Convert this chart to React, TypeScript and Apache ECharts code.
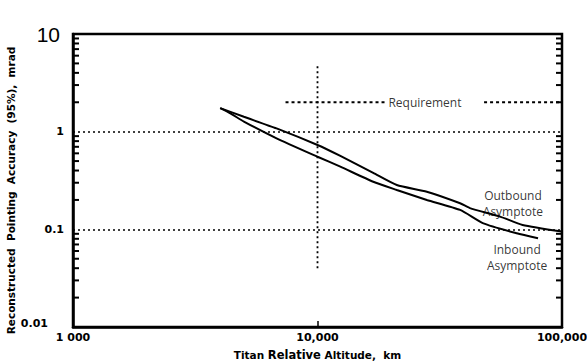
import React, { useEffect, useRef } from "react";
import * as echarts from "echarts";

// Titan relative altitude (km) and reconstructed pointing accuracy (mrad)
const outboundAlt = [4000, 5000, 6800, 10000, 12400, 16900, 21100, 28000, 38300, 42000, 55800, 69000, 100000];
const outboundAcc = [1.74, 1.42, 1.08, 0.73, 0.564, 0.378, 0.284, 0.243, 0.185, 0.165, 0.135, 0.111, 0.095];

const inboundAlt = [4000, 4400, 5000, 6800, 10000, 12400, 16900, 21100, 28000, 38300, 47700, 65300, 79800];
const inboundAcc = [1.74, 1.54, 1.27, 0.855, 0.554, 0.438, 0.307, 0.253, 0.2, 0.158, 0.115, 0.091, 0.081];

// Requirement level, drawn in two pieces around its label
const requirementLevel = 2;
const requirementLeft = [7400, 18800];
const requirementRight = [48000, 100000];

// Reference altitude marker
const markerAlt = 10000;
const markerRange = [0.04, 5];

const xTicks = [1000, 10000, 100000];
const xTickLabels = ["1 000", "10,000", "100,000"];
const yTicks = [0.01, 0.1, 1, 10];
const yTickLabels = ["0.01", "0.1", "1", "10"];

// Intermediate log ticks (2..9 within each decade) on both vertical edges
const yMinorTicks = [
  0.02, 0.03, 0.04, 0.05, 0.06, 0.07, 0.08, 0.09,
  0.2, 0.3, 0.4, 0.5, 0.6, 0.7, 0.8, 0.9,
  2, 3, 4, 5, 6, 7, 8, 9,
];

const yAxisTitle = "Reconstructed  Pointing  Accuracy  (95%),  mrad";

const annotations = [
  { text: "Requirement", at: [27500, 2] },
  { text: "Outbound\nAsymptote", at: [63000, 0.186] },
  { text: "Inbound\nAsymptote", at: [65500, 0.051] },
];

export default function App() {
  const ref = useRef<HTMLDivElement>(null);

  useEffect(() => {
    if (!ref.current) return;
    const chart = echarts.init(ref.current, undefined, { renderer: "svg" });

    const pairs = (xs: number[], ys: number[]) => xs.map((x, i) => [x, ys[i]]);
    const black = "#000";
    const tickFont = "DejaVu Sans";
    const xMin = xTicks[0];
    const xMax = xTicks[xTicks.length - 1];

    const yLabel = (v: number) => {
      const i = yTicks.findIndex((t) => Math.abs(Math.log10(t) - Math.log10(v)) < 1e-6);
      if (i < 0) return "";
      if (yTicks[i] === 10) return `{big|${yTickLabels[i]}}`;
      if (yTicks[i] === 0.01) return `{low|${yTickLabels[i]}}`;
      return `{b|${yTickLabels[i]}}`;
    };
    const xLabel = (v: number) => {
      const i = xTicks.findIndex((t) => Math.abs(Math.log10(t) - Math.log10(v)) < 1e-6);
      return i < 0 ? "" : xTickLabels[i];
    };

    chart.setOption({
      animation: false,
      backgroundColor: "#fff",
      grid: {
        left: 73,
        right: 25,
        top: 34,
        bottom: 37,
        containLabel: false,
        outerBoundsMode: "none",
        show: true,
        borderColor: black,
        borderWidth: 2.5,
        backgroundColor: "transparent",
      },
      xAxis: {
        type: "log",
        logBase: 10,
        min: xMin,
        max: xMax,
        name: "Titan {r|Relative} Altitude,  km",
        nameLocation: "middle",
        nameGap: 22,
        nameTextStyle: {
          color: black,
          fontFamily: tickFont,
          fontWeight: "bold",
          fontSize: 10.5,
          verticalAlign: "top",
          rich: {
            r: { color: black, fontFamily: tickFont, fontWeight: "bold", fontSize: 11.5 },
          },
        },
        axisLine: { show: true, lineStyle: { color: black, width: 2.5 } },
        axisTick: { show: true, inside: true, length: 6, lineStyle: { color: black, width: 1.5 } },
        axisLabel: {
          formatter: xLabel,
          color: black,
          fontFamily: tickFont,
          fontWeight: "bold",
          fontSize: 11,
          margin: 5,
        },
        splitLine: { show: false },
      },
      yAxis: {
        type: "log",
        logBase: 10,
        min: 0.01,
        max: 10,
        axisLine: { show: true, lineStyle: { color: black, width: 2.5 } },
        axisTick: { show: false },
        axisLabel: {
          formatter: yLabel,
          margin: 9,
          rich: {
            big: { fontFamily: "Liberation Sans", fontSize: 21, color: black, padding: [0, 4, 0, 0] },
            b: { fontFamily: tickFont, fontWeight: "bold", fontSize: 11, color: black },
            low: {
              fontFamily: tickFont,
              fontWeight: "bold",
              fontSize: 11,
              color: black,
              padding: [0, 16, 8, 0],
            },
          },
        },
        splitLine: {
          show: true,
          lineStyle: { color: black, width: 1.6, type: [2, 3] },
        },
      },
      series: [
        {
          name: "Outbound",
          type: "line",
          data: pairs(outboundAlt, outboundAcc),
          showSymbol: false,
          smooth: 0.2,
          lineStyle: { color: black, width: 2 },
          z: 5,
        },
        {
          name: "Inbound",
          type: "line",
          data: pairs(inboundAlt, inboundAcc),
          showSymbol: false,
          smooth: 0.2,
          lineStyle: { color: black, width: 2 },
          z: 5,
        },
        ...[requirementLeft, requirementRight].map((seg) => ({
          name: "Requirement",
          type: "line",
          data: seg.map((x) => [x, requirementLevel]),
          showSymbol: false,
          lineStyle: { color: black, width: 2, type: [3, 3] },
          z: 4,
        })),
        {
          name: "Marker",
          type: "line",
          data: markerRange.map((y) => [markerAlt, y]),
          showSymbol: false,
          lineStyle: { color: black, width: 1.8, type: [2, 3] },
          z: 3,
        },
        {
          name: "Annotations",
          type: "scatter",
          symbolSize: 0,
          data: annotations.map((a) => ({ value: a.at, name: a.text })),
          label: {
            show: true,
            position: "inside",
            formatter: (p: any) => p.name,
            color: black,
            fontFamily: "Open Sans",
            fontSize: 12,
            lineHeight: 16,
            align: "center",
          },
          z: 6,
        },
      ],
    });

    // Inward log ticks on both vertical edges, placed through the y scale
    const tickLen = 6;
    const tickLines: any[] = [];
    yMinorTicks.forEach((v) => {
      const l = chart.convertToPixel({ gridIndex: 0 }, [xMin, v]) as number[];
      const r = chart.convertToPixel({ gridIndex: 0 }, [xMax, v]) as number[];
      tickLines.push(
        { type: "rect", shape: { x: l[0], y: l[1] - 1, width: tickLen, height: 2 }, style: { fill: black }, silent: true, z: 10 },
        { type: "rect", shape: { x: r[0] - tickLen, y: r[1] - 1, width: tickLen, height: 2 }, style: { fill: black }, silent: true, z: 10 }
      );
    });
    const top = chart.convertToPixel({ gridIndex: 0 }, [xMin, 10]) as number[];
    const bottom = chart.convertToPixel({ gridIndex: 0 }, [xMin, 0.01]) as number[];

    chart.setOption({
      graphic: [
        ...tickLines,
        {
          type: "text",
          x: 11,
          y: (top[1] + bottom[1]) / 2 + 10,
          rotation: Math.PI / 2,
          style: {
            text: yAxisTitle,
            fill: black,
            font: `bold 10.5px "${tickFont}"`,
            align: "center",
            verticalAlign: "middle",
          },
        },
      ],
    });

    return () => chart.dispose();
  }, []);

  return <div ref={ref} style={{ width: 587, height: 364, position: "absolute", left: 0, top: 0 }} />;
}
